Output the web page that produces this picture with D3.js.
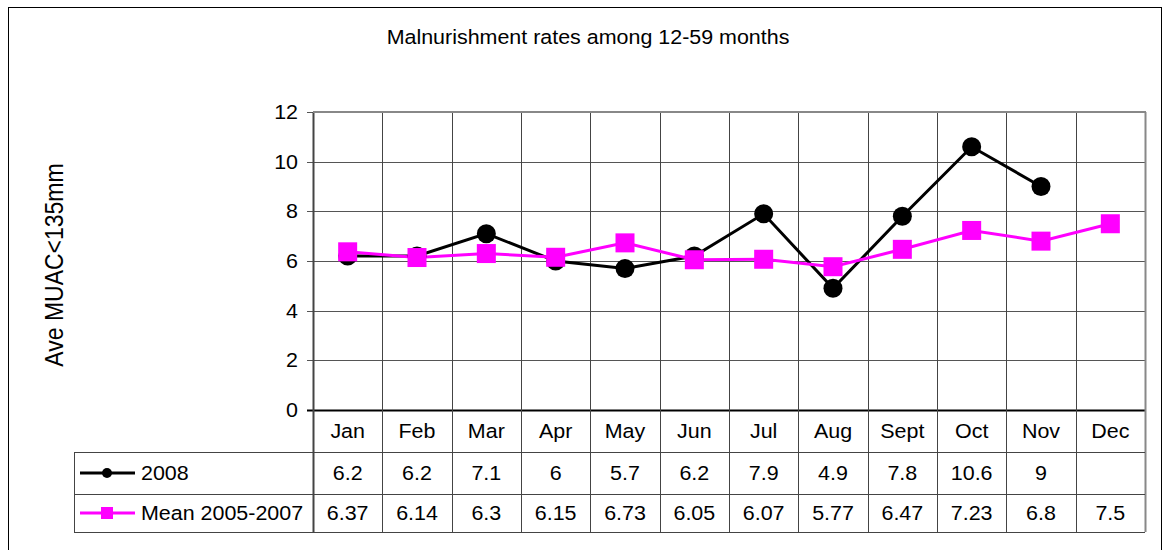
<!DOCTYPE html>
<html>
<head>
<meta charset="utf-8">
<script src="https://cdn.jsdelivr.net/npm/d3@7"></script>
<style>
  body { margin: 0; background: #fff; }
  text { font-family: "Liberation Sans", Arial, sans-serif; fill: #000; }
</style>
</head>
<body>
<div id="canvas"></div>
<script>
"use strict"

// data
let months = ["Jan", "Feb", "Mar", "Apr", "May", "Jun", "Jul", "Aug", "Sept", "Oct", "Nov", "Dec"];
let values2008 = [6.2, 6.2, 7.1, 6, 5.7, 6.2, 7.9, 4.9, 7.8, 10.6, 9, null];
let valuesMean = [6.37, 6.14, 6.3, 6.15, 6.73, 6.05, 6.07, 5.77, 6.47, 7.23, 6.8, 7.5];
let yTicks = [0, 2, 4, 6, 8, 10, 12];
let seriesNames = ["2008", "Mean 2005-2007"];

let svgWidth = 1163;
let svgHeight = 550;

// the original picture is a bit stretched sideways, so text is widened too
let stretch = 1.1;
let fontSize = 19.5;

// plot box
let plotLeft = 313, plotRight = 1145, plotTop = 112, plotBottom = 410;
// table rows below the plot
let rowMonth = 452, row2008 = 494, rowMean = 532;
let tableLeft = 74;

let svg = d3.select("#canvas")
    .append("svg")
    .attr("width", svgWidth)
    .attr("height", svgHeight);

// places a widened text at x,y
function putText(sel, fx, fy) {
    return sel.attr("transform", (d, i) => "translate(" + fx(d, i) + "," + fy(d, i) + ") scale(" + stretch + ",1)")
        .attr("dy", "0.35em")
        .style("font-size", fontSize + "px");
}

// outer frame
svg.append("rect")
    .attr("x", 8.5).attr("y", 7.5)
    .attr("width", 1153).attr("height", 560)
    .attr("fill", "none")
    .attr("stroke", "#000")
    .attr("stroke-width", 1);

let xScale = d3.scaleBand()
    .domain(months)
    .range([plotLeft, plotRight]);

let yScale = d3.scaleLinear()
    .domain([0, 12])
    .range([plotBottom, plotTop]);

// horizontal grid
svg.append("g")
    .selectAll("line")
    .data(yTicks)
    .join("line")
    .attr("x1", plotLeft - 6)
    .attr("x2", plotRight)
    .attr("y1", d => Math.round(yScale(d)) + 0.5)
    .attr("y2", d => Math.round(yScale(d)) + 0.5)
    .attr("stroke", d => d === 0 ? "#000" : "#555")
    .attr("stroke-width", d => d === 0 ? 2 : 1);

// y tick labels
putText(svg.append("g")
    .selectAll("text")
    .data(yTicks)
    .join("text")
    .attr("text-anchor", "end")
    .text(d => d), d => 298, d => yScale(d));

// vertical lines through plot and table
let colEdges = months.map(m => xScale(m)).concat([plotRight]);
svg.append("g")
    .selectAll("line")
    .data(colEdges)
    .join("line")
    .attr("x1", d => Math.round(d) + 0.5)
    .attr("x2", d => Math.round(d) + 0.5)
    .attr("y1", plotTop)
    .attr("y2", rowMean)
    .attr("stroke", (d, i) => i === colEdges.length - 1 ? "#888" : "#444")
    .attr("stroke-width", (d, i) => (i === 0 || i === colEdges.length - 1) ? 2 : 1);

// top border of plot
svg.append("line")
    .attr("x1", plotLeft).attr("x2", plotRight + 1)
    .attr("y1", plotTop).attr("y2", plotTop)
    .attr("stroke", "#888").attr("stroke-width", 2);

// table horizontal lines
[rowMonth, row2008, rowMean].forEach(function (y) {
    svg.append("line")
        .attr("x1", tableLeft).attr("x2", plotRight)
        .attr("y1", y + 0.5).attr("y2", y + 0.5)
        .attr("stroke", "#444").attr("stroke-width", 1);
});
svg.append("line")
    .attr("x1", tableLeft + 0.5).attr("x2", tableLeft + 0.5)
    .attr("y1", rowMonth).attr("y2", rowMean)
    .attr("stroke", "#444");

let colMid = m => xScale(m) + xScale.bandwidth() / 2;

// month labels
putText(svg.append("g")
    .selectAll("text")
    .data(months)
    .join("text")
    .attr("text-anchor", "middle")
    .text(d => d), d => colMid(d), d => (plotBottom + rowMonth) / 2);

// table values
function valueRow(vals, yMid) {
    putText(svg.append("g")
        .selectAll("text")
        .data(vals.map((v, i) => ({ m: months[i], v: v })).filter(d => d.v !== null))
        .join("text")
        .attr("text-anchor", "middle")
        .text(d => d.v), d => colMid(d.m), d => yMid);
}
valueRow(values2008, (rowMonth + row2008) / 2);
valueRow(valuesMean, (row2008 + rowMean) / 2);

// lines
let line = d3.line()
    .defined(d => d.v !== null)
    .x(d => colMid(d.m))
    .y(d => yScale(d.v));

let data2008 = values2008.map((v, i) => ({ m: months[i], v: v }));
let dataMean = valuesMean.map((v, i) => ({ m: months[i], v: v }));

svg.append("path")
    .datum(data2008)
    .attr("d", line)
    .attr("fill", "none")
    .attr("stroke", "#000")
    .attr("stroke-width", 3);

svg.append("path")
    .datum(dataMean)
    .attr("d", line)
    .attr("fill", "none")
    .attr("stroke", "#ff00ff")
    .attr("stroke-width", 3);

svg.append("g")
    .selectAll("circle")
    .data(data2008.filter(d => d.v !== null))
    .join("circle")
    .attr("cx", d => colMid(d.m))
    .attr("cy", d => yScale(d.v))
    .attr("r", 9.5)
    .attr("fill", "#000");

svg.append("g")
    .selectAll("rect")
    .data(dataMean)
    .join("rect")
    .attr("x", d => colMid(d.m) - 9.5)
    .attr("y", d => yScale(d.v) - 9.5)
    .attr("width", 19)
    .attr("height", 19)
    .attr("fill", "#ff00ff");

// legend keys inside the table
let keyY = [(rowMonth + row2008) / 2, (row2008 + rowMean) / 2];
svg.append("line")
    .attr("x1", 80).attr("x2", 135).attr("y1", keyY[0]).attr("y2", keyY[0])
    .attr("stroke", "#000").attr("stroke-width", 3);
svg.append("circle")
    .attr("cx", 107).attr("cy", keyY[0]).attr("r", 5).attr("fill", "#000");
svg.append("line")
    .attr("x1", 80).attr("x2", 135).attr("y1", keyY[1]).attr("y2", keyY[1])
    .attr("stroke", "#ff00ff").attr("stroke-width", 3);
svg.append("rect")
    .attr("x", 101).attr("y", keyY[1] - 6).attr("width", 12).attr("height", 12)
    .attr("fill", "#ff00ff");

putText(svg.selectAll(".legendText")
    .data(seriesNames)
    .join("text")
    .attr("class", "legendText")
    .text(d => d), d => 141, (d, i) => keyY[i]);

// title
putText(svg.append("text")
    .datum("Malnurishment rates among 12-59 months")
    .attr("text-anchor", "middle")
    .text(d => d), d => 588, d => 37);

// y axis label
svg.append("text")
    .attr("transform", "translate(54,265) scale(" + stretch + ",1) rotate(-90)")
    .attr("dy", "0.35em")
    .attr("text-anchor", "middle")
    .style("font-size", "23px")
    .text("Ave MUAC<135mm");
</script>
</body>
</html>
